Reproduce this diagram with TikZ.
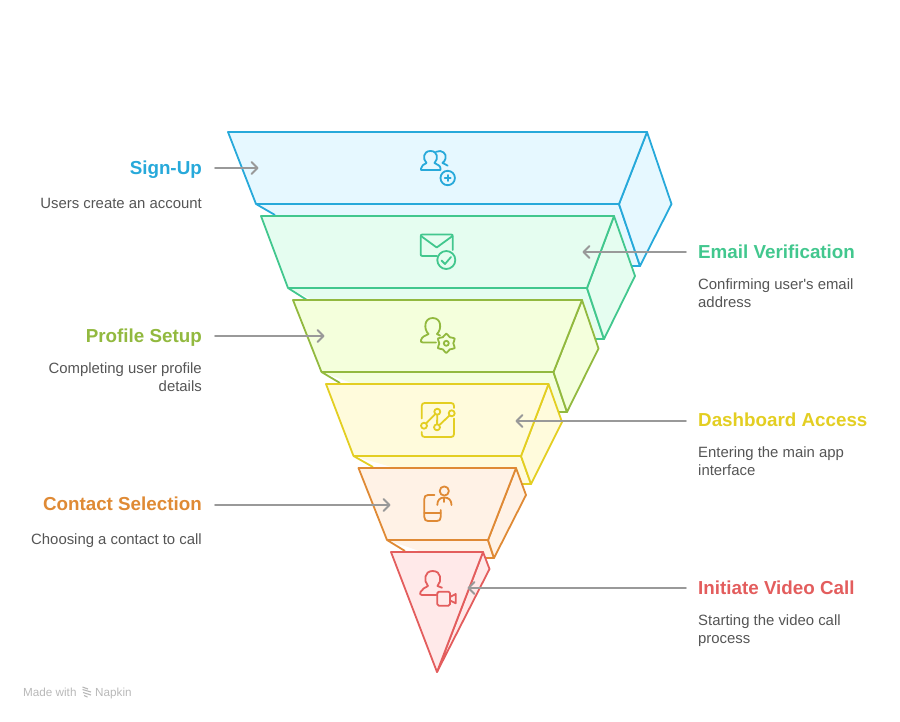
\documentclass[tikz,border=0pt]{standalone}
\usepackage{fontspec}
\newfontfamily\labelfont{Liberation Sans}
\definecolor{cblue}{HTML}{27A9DA}\definecolor{fblue}{HTML}{E6F8FF}
\definecolor{cgreen}{HTML}{42C78E}\definecolor{fgreen}{HTML}{E5FDF0}
\definecolor{colive}{HTML}{92B93F}\definecolor{folive}{HTML}{F4FFDC}
\definecolor{cyel}{HTML}{E3CE22}\definecolor{fyel}{HTML}{FFFBDC}
\definecolor{corg}{HTML}{DF8A35}\definecolor{forg}{HTML}{FFF2E6}
\definecolor{cred}{HTML}{E35D5D}\definecolor{fred}{HTML}{FFE9E9}
\definecolor{txt}{HTML}{555555}
\definecolor{arr}{HTML}{999999}
\tikzset{
  x=1pt,y=-1pt,
  layer/.style={line width=1.8pt,line join=round},
  icon/.style={line width=1.8pt,line cap=round,line join=round},
  flow/.style={draw=arr,line width=1.8pt,line cap=round,line join=round},
  title/.style={inner sep=0pt,font=\labelfont\fontsize{18.8}{22}\selectfont\bfseries},
  descR/.style={inner sep=0pt,anchor=north east,align=right,text=txt,font=\labelfont\fontsize{14.9}{18}\selectfont},
  descL/.style={inner sep=0pt,anchor=north west,align=left,text=txt,font=\labelfont\fontsize{14.9}{18}\selectfont},
}
\newcommand{\tipR}[1]{\draw[flow] ([shift={(-6,-6)}]#1) -- (#1) -- ([shift={(-6,6)}]#1);}
\newcommand{\tipL}[1]{\draw[flow] ([shift={(6,-6)}]#1) -- (#1) -- ([shift={(6,6)}]#1);}
\begin{document}
\begin{tikzpicture}
\useasboundingbox (0,0) rectangle (900,721);
% blue
\fill[fblue] (256,204) -- (363,266) -- (640,266) -- (619,204) -- cycle;
\draw[layer,draw=cblue] (256,204) -- (275,215);
\draw[layer,draw=cblue] (619,204) -- (640,266) -- (630,266);
\draw[layer,draw=cblue,fill=fblue] (647,132) -- (671.5,204) -- (640,266) -- (619,204) -- cycle;
\draw[layer,draw=cblue,fill=fblue] (228,132) -- (647,132) -- (619,204) -- (256,204) -- cycle;
% green
\fill[fgreen] (288,288) -- (394,339) -- (604,339) -- (587,288) -- cycle;
\draw[layer,draw=cgreen] (288,288) -- (307,300);
\draw[layer,draw=cgreen] (587,288) -- (604,339) -- (594,339);
\draw[layer,draw=cgreen,fill=fgreen] (614,216) -- (635,276) -- (604,339) -- (587,288) -- cycle;
\draw[layer,draw=cgreen,fill=fgreen] (261,216) -- (614,216) -- (587,288) -- (288,288) -- cycle;
% olive
\fill[folive] (321.5,372) -- (430,412) -- (567,412) -- (553.5,372) -- cycle;
\draw[layer,draw=colive] (321.5,372) -- (340,383);
\draw[layer,draw=colive] (553.5,372) -- (567,412) -- (558,412);
\draw[layer,draw=colive,fill=folive] (582,300) -- (598.5,348.5) -- (567,412) -- (553.5,372) -- cycle;
\draw[layer,draw=colive,fill=folive] (293,300) -- (582,300) -- (553.5,372) -- (321.5,372) -- cycle;
% yellow
\fill[fyel] (353.5,456) -- (450,484) -- (531,484) -- (521,456) -- cycle;
\draw[layer,draw=cyel] (353.5,456) -- (373,467);
\draw[layer,draw=cyel] (521,456) -- (531,484) -- (522,484);
\draw[layer,draw=cyel,fill=fyel] (548.5,384) -- (562,422) -- (531,484) -- (521,456) -- cycle;
\draw[layer,draw=cyel,fill=fyel] (326,384) -- (548.5,384) -- (521,456) -- (353.5,456) -- cycle;
% orange
\fill[forg] (387,540) -- (440,558) -- (494,558) -- (488,540) -- cycle;
\draw[layer,draw=corg] (387,540) -- (405,551);
\draw[layer,draw=corg] (488,540) -- (494,558) -- (485,558);
\draw[layer,draw=corg,fill=forg] (516,468) -- (526,495) -- (494,558) -- (488,540) -- cycle;
\draw[layer,draw=corg,fill=forg] (358.5,468) -- (516,468) -- (488,540) -- (387,540) -- cycle;
% red
\draw[layer,draw=cred,fill=fred] (483,552) -- (489.5,569) -- (437,672) -- cycle;
\draw[layer,draw=cred,fill=fred] (391,552) -- (483,552) -- (437,672) -- cycle;

% icon: users plus
\begin{scope}[icon,draw=cblue]
\draw (421,170) -- (440.5,170) -- (440.5,168.5) .. controls (440.5,165.5) and (437,164.5) .. (434.5,163) .. controls (438.5,159) and (438,151) .. (430.5,151) .. controls (423,151) and (422.5,159) .. (426.5,163) .. controls (424,164.5) and (421,165.5) .. (421,168.5) -- cycle;
\draw (436,151.8) .. controls (442,149) and (447,154) .. (445.5,158.5) .. controls (445,160.5) and (444,162) .. (442.5,163) .. controls (444.5,164) and (446.5,164.8) .. (447.7,165.7);
\draw (447.7,178) circle (7.2);
\draw (447.7,175) -- (447.7,181) (444.7,178) -- (450.7,178);
\end{scope}
% icon: mail check
\begin{scope}[icon,draw=cgreen]
\draw (437,256) -- (422.5,256) .. controls (421,256) and (420.7,255.5) .. (420.7,254) -- (420.7,236.5) .. controls (420.7,235) and (421,234.5) .. (422.5,234.5) -- (451,234.5) .. controls (452.5,234.5) and (452.7,235) .. (452.7,236.5) -- (452.7,250);
\draw (421,236) -- (436.7,247.5) -- (452.5,236);
\draw (446.3,260) circle (9);
\draw (441.5,260.5) -- (445,264) -- (451,257);
\end{scope}
% icon: user gear
\begin{scope}[icon,draw=colive]
\draw (436,342.5) -- (423,342.5) .. controls (421,342.5) and (420.5,341.5) .. (421,340) .. controls (422,336.5) and (425.5,335.5) .. (428.5,334) .. controls (423.5,329) and (424,318) .. (432.7,318) .. controls (441.5,318) and (442,329) .. (437,334) .. controls (438,334.5) and (439,335) .. (440,335.5);
\draw plot[smooth cycle,tension=0.55] coordinates {([shift={(446.3,343.3)}]0:7) ([shift={(446.3,343.3)}]30:9.7) ([shift={(446.3,343.3)}]60:7) ([shift={(446.3,343.3)}]90:9.7) ([shift={(446.3,343.3)}]120:7) ([shift={(446.3,343.3)}]150:9.7) ([shift={(446.3,343.3)}]180:7) ([shift={(446.3,343.3)}]210:9.7) ([shift={(446.3,343.3)}]240:7) ([shift={(446.3,343.3)}]270:9.7) ([shift={(446.3,343.3)}]300:7) ([shift={(446.3,343.3)}]330:9.7)};
\draw (446.3,343.3) circle (2.5);
\end{scope}
% icon: dashboard chart
\begin{scope}[icon,draw=cyel]
\draw (421.7,418.5) -- (421.7,406) .. controls (421.7,404) and (422.7,403) .. (424.7,403) -- (451,403) .. controls (453,403) and (454,404) .. (454,406) -- (454,408);
\draw (454,418.5) -- (454,434) .. controls (454,436) and (453,437) .. (451,437) -- (424.7,437) .. controls (422.7,437) and (421.7,436) .. (421.7,434) -- (421.7,432);
\draw (424,425.7) circle (3) (437.3,411.7) circle (3) (437,427.3) circle (3) (451.7,413.3) circle (3);
\draw (426,423.5) -- (435.3,414) (437.2,414.7) -- (437.1,424.3) (439.2,425.2) -- (449.5,415.5);
\end{scope}
% icon: phone contact
\begin{scope}[icon,draw=corg]
\draw (434.5,495) -- (428,495) .. controls (425.5,495) and (424.3,496.5) .. (424.3,499) -- (424.3,517) .. controls (424.3,519.8) and (425.8,521) .. (428,521) -- (437,521) .. controls (439.4,521) and (440.7,519.8) .. (440.7,517) -- (440.7,510);
\draw (424.3,512.7) -- (440.7,512.7);
\draw (444.3,491) circle (4.6);
\draw (437.3,505) .. controls (437.3,500) and (440,497.5) .. (444.3,497.5) .. controls (448.6,497.5) and (451.5,500) .. (451.5,505);
\draw (444.3,498) -- (444.3,502);
\end{scope}
% icon: user video
\begin{scope}[icon,draw=cred]
\draw (436.5,595) -- (422,595) .. controls (420,595) and (419.5,593.5) .. (420.5,592) .. controls (422,589) and (425,587.5) .. (428,586) .. controls (423.5,581) and (424,571) .. (432.7,571) .. controls (441.5,571) and (442,581) .. (437.5,586) .. controls (439,586.5) and (440.5,587) .. (442,587.7);
\draw[rounded corners=1.5pt] (437.3,591.7) rectangle (450,605.7);
\draw (450,597) -- (455.7,594) -- (455.7,603.3) -- (450,600.5);
\end{scope}

% labels
\node[title,text=cblue,anchor=base east] (signup) at (202,174.5) {Sign-Up};
\node[descR] (signupd) at (202,196) {\strut Users create an account};
\node[title,text=cgreen,anchor=base west] (email) at (698,258.5) {Email Verification};
\node[descL] (emaild) at (698,277) {\strut Confirming user's email\\address};
\node[title,text=colive,anchor=base east] (profile) at (202,342.5) {Profile Setup};
\node[descR] (profiled) at (202,361) {\strut Completing user profile\\details};
\node[title,text=cyel,anchor=base west] (dash) at (698,426.5) {Dashboard Access};
\node[descL] (dashd) at (698,445) {\strut Entering the main app\\interface};
\node[title,text=corg,anchor=base east] (contact) at (202,510.5) {Contact Selection};
\node[descR] (contactd) at (202,532) {\strut Choosing a contact to call};
\node[title,text=cred,anchor=base west] (video) at (698,594.5) {Initiate Video Call};
\node[descL] (videod) at (698,613) {\strut Starting the video call\\process};

% connectors
\coordinate (a1) at (215,168); \coordinate (b1) at (257.5,168);
\coordinate (a2) at (686,252); \coordinate (b2) at (583.5,252);
\coordinate (a3) at (215,336); \coordinate (b3) at (323.5,336);
\coordinate (a4) at (686,421); \coordinate (b4) at (516.5,421);
\coordinate (a5) at (215,505); \coordinate (b5) at (389.5,505);
\coordinate (a6) at (686,588); \coordinate (b6) at (468.5,588);
\draw[flow] (a1) -- (b1); \tipR{b1}
\draw[flow] (a2) -- (b2); \tipL{b2}
\draw[flow] (a3) -- (b3); \tipR{b3}
\draw[flow] (a4) -- (b4); \tipL{b4}
\draw[flow] (a5) -- (b5); \tipR{b5}
\draw[flow] (a6) -- (b6); \tipL{b6}

% watermark
\node[inner sep=0pt,anchor=base west,text=black!28,font=\labelfont\fontsize{11.7}{13}\selectfont] (made) at (23,696) {Made with};
\node[inner sep=0pt,anchor=base west,text=black!28,font=\labelfont\fontsize{11.7}{13}\selectfont] (napkin) at (95,696) {Napkin};
\draw[black!28,line width=1.1pt] (82.5,687) -- (88,689) (82.5,689.5) -- (91,692) (83,692.5) -- (91,695) (84,695.5) -- (87.5,697);
\end{tikzpicture}
\end{document}
